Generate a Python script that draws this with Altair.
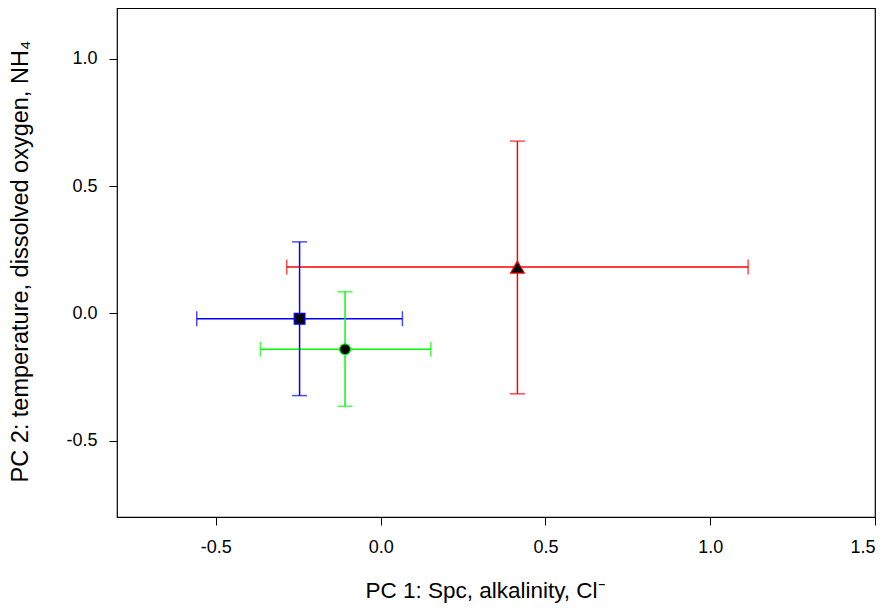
import altair as alt
import pandas as pd

groups = ["blue", "green", "red"]
colors = ["#0000ff", "#00ff00", "#ff0000"]
shapes = ["square", "circle", "triangle-up"]
marker_area = [115, 120, 190]
pc1 = [-0.246, -0.108, 0.415]
pc1_lo = [-0.558, -0.365, -0.285]
pc1_hi = [0.066, 0.152, 1.115]
pc2 = [-0.021, -0.141, 0.182]
pc2_lo = [-0.323, -0.365, -0.316]
pc2_hi = [0.281, 0.085, 0.677]

x_ticks = [-0.5, 0.0, 0.5, 1.0, 1.5]
y_ticks = [-0.5, 0.0, 0.5, 1.0]

df = pd.DataFrame({
    "group": groups, "color": colors, "shape": shapes, "msize": marker_area,
    "x": pc1, "xlo": pc1_lo, "xhi": pc1_hi,
    "y": pc2, "ylo": pc2_lo, "yhi": pc2_hi,
})

FONT = "Liberation Sans"
LBL = "replace(format(datum.value, '.1f'), '\u2212', '-')"

xscale = alt.Scale(domain=[-0.8, 1.5], nice=False, zero=False)
yscale = alt.Scale(domain=[-0.8, 1.2], nice=False, zero=False)

xaxis = alt.Axis(values=x_ticks, labelExpr=LBL, grid=False, domain=False,
                 tickSize=8, tickColor="black", labelFontSize=18, labelFont=FONT,
                 labelColor="black", labelPadding=13,
                 title="PC 1: Spc, alkalinity, Cl⁻", titleFont=FONT, titleFontSize=22.5,
                 titleFontWeight="normal", titleColor="black",
                 titleBaseline="alphabetic", titleX=368, titleY=80, titleAnchor="middle")
yaxis = alt.Axis(values=y_ticks, labelExpr=LBL, grid=False, domain=False,
                 tickSize=8, tickColor="black", labelFontSize=18, labelFont=FONT,
                 labelColor="black", labelPadding=12,
                 title="PC 2: temperature, dissolved oxygen, NH₄", titleFont=FONT,
                 titleFontSize=23.5, titleFontWeight="normal", titleColor="black",
                 titleBaseline="alphabetic", titleX=-90, titleY=253, titleAngle=-90)

base = alt.Chart(df)
col = alt.Color("color:N", scale=None, legend=None)

hbar = base.mark_rule(strokeWidth=1.5).encode(
    x=alt.X("xlo:Q", scale=xscale, axis=xaxis), x2="xhi:Q",
    y=alt.Y("y:Q", scale=yscale, axis=yaxis), color=col)
vbar = base.mark_rule(strokeWidth=1.5).encode(
    x=alt.X("x:Q", scale=xscale), y=alt.Y("ylo:Q", scale=yscale), y2="yhi:Q", color=col)

cap_l = base.mark_tick(orient="vertical", size=15, thickness=1.5).encode(
    x=alt.X("xlo:Q", scale=xscale), y=alt.Y("y:Q", scale=yscale), color=col)
cap_r = base.mark_tick(orient="vertical", size=15, thickness=1.5).encode(
    x=alt.X("xhi:Q", scale=xscale), y=alt.Y("y:Q", scale=yscale), color=col)
cap_b = base.mark_tick(orient="horizontal", size=15, thickness=1.5).encode(
    x=alt.X("x:Q", scale=xscale), y=alt.Y("ylo:Q", scale=yscale), color=col)
cap_t = base.mark_tick(orient="horizontal", size=15, thickness=1.5).encode(
    x=alt.X("x:Q", scale=xscale), y=alt.Y("yhi:Q", scale=yscale), color=col)

pts = base.mark_point(filled=True, fill="black", fillOpacity=1, strokeWidth=1.2,
                      opacity=1).encode(
    x=alt.X("x:Q", scale=xscale), y=alt.Y("y:Q", scale=yscale),
    stroke=alt.Stroke("color:N", scale=None, legend=None),
    shape=alt.Shape("shape:N", scale=None, legend=None),
    size=alt.Size("msize:Q", scale=None, legend=None))

chart = alt.layer(hbar, vbar, cap_l, cap_r, cap_b, cap_t, pts).properties(
    width=758, height=509,
    autosize=alt.AutoSizeParams(type="none"),
    padding={"left": 109, "top": 0, "right": 7, "bottom": 90},
    background="white",
).configure_view(stroke="black", strokeWidth=1.2)

chart.save("out.html", embed_options={"renderer": "svg", "actions": False})
